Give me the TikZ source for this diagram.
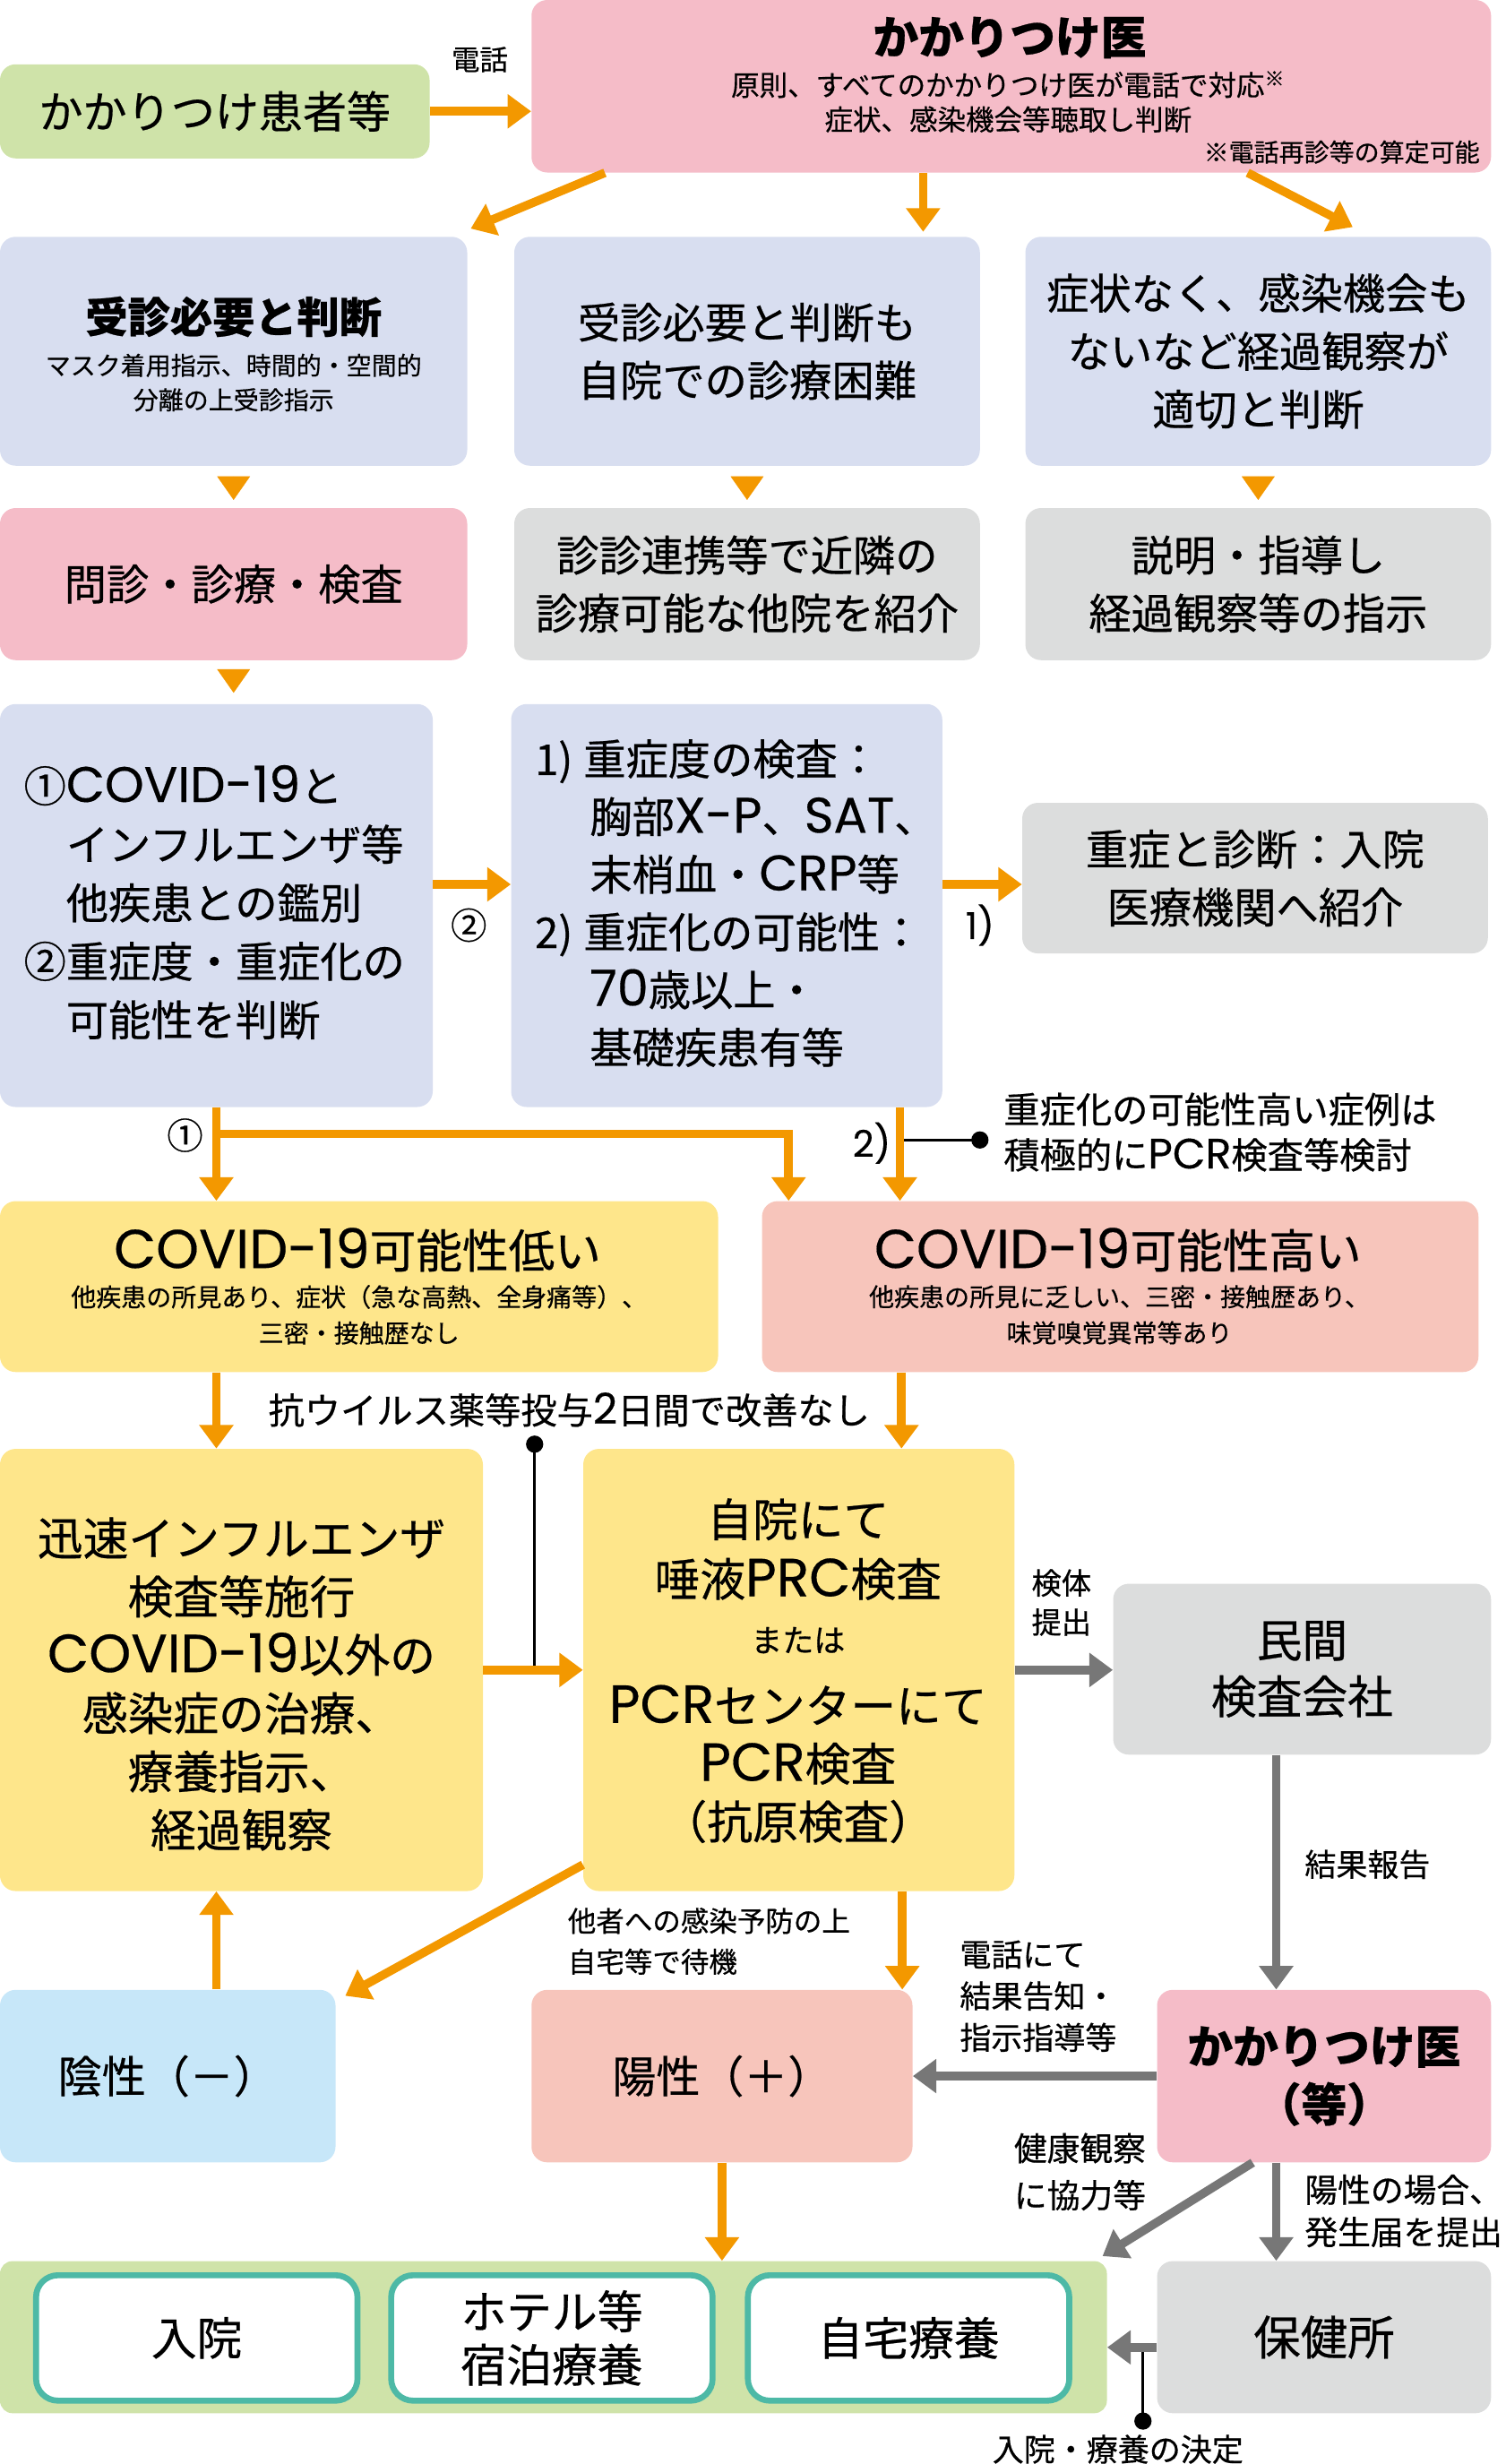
\documentclass[tikz,border=0pt]{standalone}
\usepackage{fontspec}
\setmainfont{Noto Sans CJK JP}[FakeBold=0.5]
\newfontfamily\latinfont{Poppins}[Scale=1.18, FakeBold=0.3]
\newcommand\enw[1]{{\latinfont #1}}
\usetikzlibrary{arrows.meta}
\definecolor{orangeA}{HTML}{F39800}
\definecolor{grayA}{HTML}{777777}
\definecolor{pinkA}{HTML}{F5BCC8}
\definecolor{blueA}{HTML}{D8DEF0}
\definecolor{grayB}{HTML}{DCDDDD}
\definecolor{yellowA}{HTML}{FEE68B}
\definecolor{salmonA}{HTML}{F7C5BB}
\definecolor{skyA}{HTML}{C7E7F9}
\definecolor{greenA}{HTML}{CFE3A9}
\definecolor{tealA}{HTML}{4DB9A6}
\begin{document}
\begin{tikzpicture}[x=1pt,y=-1pt,
  box/.style={rounded corners=10pt, inner sep=0pt, align=center},
  txt/.style={inner sep=0pt, align=center},
  place/.style={box, rounded corners=14pt, fill=white, draw=tealA, line width=3.8pt,
    minimum width=205pt, minimum height=80pt, font=\fontsize{29}{34}\selectfont},
  oarr/.style={draw=orangeA, line width=5.5pt, -{Triangle[width=21pt,length=15pt]}},
  garr/.style={draw=grayA, line width=5.5pt, -{Triangle[width=21pt,length=15pt]}},
  otip/.style={draw=orangeA, fill=orangeA, line width=0.1pt, -{Triangle[width=21pt,length=15pt]}},
  dot/.style={circle, fill=black, inner sep=0pt, minimum size=11pt},
  pin/.style={draw=black, line width=1.9pt},
  bigtxt/.style={font=\fontsize{27}{37}\selectfont}]
\useasboundingbox (0,0) rectangle (960,1571.4);
% top row
\node[box, fill=greenA, minimum width=274pt, minimum height=60pt, font=\fontsize{28}{34}\selectfont] (pat) at (137,71) {かかりつけ患者等};
\node[box, fill=pinkA, minimum width=612pt, minimum height=110pt] (doc) at (645,55) {};
\node[txt, font=\bfseries\fontsize{29}{34}\selectfont] (docT) at (644,24) {かかりつけ医};
\node[txt, font=\fontsize{18}{22}\selectfont] (docS) at (643,65) {原則、すべてのかかりつけ医が電話で対応\textsuperscript{※}\\症状、感染機会等聴取し判断};
\node[txt, anchor=east, font=\fontsize{16}{20}\selectfont] (docN) at (944,97) {※電話再診等の算定可能};
\node[txt, font=\fontsize{18}{20}\selectfont] (tel) at (306,38) {電話};
% judgement
\node[box, fill=blueA, minimum width=298pt, minimum height=146pt] (need) at (149,224) {};
\node[txt, font=\bfseries\fontsize{27}{32}\selectfont] (needT) at (149,202) {受診必要と判断};
\node[txt, font=\fontsize{16}{22}\selectfont] (needS) at (149,244) {マスク着用指示、時間的・空間的\\分離の上受診指示};
\node[box, bigtxt, fill=blueA, minimum width=297pt, minimum height=146pt] (hard) at (476.5,224) {受診必要と判断も\\自院での診療困難};
\node[box, bigtxt, fill=blueA, minimum width=297pt, minimum height=146pt] (watch) at (802.5,224) {症状なく、感染機会も\\ないなど経過観察が\\適切と判断};
\node[box, bigtxt, fill=pinkA, minimum width=298pt, minimum height=97pt] (exam) at (149,372.5) {問診・診療・検査};
\node[box, bigtxt, fill=grayB, minimum width=297pt, minimum height=97pt] (refer) at (476.5,372.5) {診診連携等で近隣の\\診療可能な他院を紹介};
\node[box, bigtxt, fill=grayB, minimum width=297pt, minimum height=97pt] (guide) at (802.5,372.5) {説明・指導し\\経過観察等の指示};
% diagnosis
\node[box, fill=blueA, minimum width=276pt, minimum height=257pt] (diff) at (138,577.5) {};
\node[txt, anchor=west, align=left, font=\fontsize{27}{37.3}\selectfont] (diffT) at (15,575.5) {①\enw{COVID-19}と\\　インフルエンザ等\\　他疾患との鑑別\\②重症度・重症化の\\　可能性を判断};
\node[box, fill=blueA, minimum width=275pt, minimum height=257pt] (sev) at (463.5,577.5) {};
\node[txt, anchor=west, align=left, font=\fontsize{27}{36.8}\selectfont] (sevT) at (341,576) {\makebox[31pt][l]{1)}重症度の検査：\\\hspace*{35pt}胸部\enw{X-P}、\enw{SAT}、\\\hspace*{35pt}末梢血・\enw{CRP}等\\\makebox[31pt][l]{2)}重症化の可能性：\\\hspace*{35pt}\enw{70}歳以上・\\\hspace*{35pt}基礎疾患有等};
\node[box, bigtxt, fill=grayB, minimum width=297pt, minimum height=96pt] (hosp) at (800.5,560) {重症と診断：入院\\医療機関へ紹介};
\node[txt, font=\fontsize{23}{24}\selectfont] (lab2) at (299,590) {②};
\node[txt, font=\fontsize{20}{22}\selectfont] (lab1r) at (625,590) {\enw{1)}};
\node[txt, font=\fontsize{23}{24}\selectfont] (lab1) at (118,724) {①};
\node[txt, font=\fontsize{20}{22}\selectfont] (lab2r) at (556,729) {\enw{2)}};
\node[txt, anchor=west, align=left, font=\fontsize{23}{29}\selectfont] (note) at (640,722) {重症化の可能性高い症例は\\積極的に\enw{PCR}検査等検討};
% possibility
\node[box, fill=yellowA, minimum width=458pt, minimum height=109pt] (low) at (229,820.5) {};
\node[txt, font=\fontsize{29.5}{32}\selectfont] (lowT) at (228,797) {\enw{COVID-19}可能性低い};
\node[txt, font=\fontsize{16}{23}\selectfont] (lowS) at (229,838.5) {他疾患の所見あり、症状（急な高熱、全身痛等）、\\三密・接触歴なし};
\node[box, fill=salmonA, minimum width=457pt, minimum height=109pt] (high) at (714.5,820.5) {};
\node[txt, font=\fontsize{29.5}{32}\selectfont] (highT) at (713,797) {\enw{COVID-19}可能性高い};
\node[txt, font=\fontsize{16}{23}\selectfont] (highS) at (714,838.5) {他疾患の所見に乏しい、三密・接触歴あり、\\味覚嗅覚異常等あり};
\node[txt, anchor=west, font=\fontsize{23}{26}\selectfont] (anti) at (171,899) {抗ウイルス薬等投与\enw{2}日間で改善なし};
% tests
\node[box, fill=yellowA, minimum width=308pt, minimum height=282pt] (flu) at (154,1065) {};
\node[txt, font=\fontsize{29}{37.2}\selectfont] (fluT) at (154,1074) {迅速インフルエンザ\\検査等施行\\\enw{COVID-19}以外の\\感染症の治療、\\療養指示、\\経過観察};
\node[box, fill=yellowA, minimum width=275pt, minimum height=282pt] (pcr) at (509.5,1065) {};
\node[txt, font=\fontsize{29}{38}\selectfont] (pcrA) at (509,988) {自院にて\\唾液\enw{PRC}検査};
\node[txt, font=\fontsize{20}{22}\selectfont] (pcrB) at (509,1046) {または};
\node[txt, font=\fontsize{29}{37}\selectfont] (pcrC) at (509,1125) {\enw{PCR}センターにて\\\enw{PCR}検査\\（抗原検査）};
\node[box, fill=grayB, minimum width=241pt, minimum height=109pt, font=\fontsize{29}{36}\selectfont] (lab) at (830.5,1064.5) {民間\\検査会社};
\node[txt, font=\fontsize{19}{25}\selectfont] (spec) at (677,1022) {検体\\提出};
\node[txt, anchor=west, font=\fontsize{20}{22}\selectfont] (rep) at (832,1189) {結果報告};
% results
\node[box, fill=skyA, minimum width=214pt, minimum height=110pt, font=\fontsize{28}{32}\selectfont] (neg) at (107,1324) {陰性（－）};
\node[box, fill=salmonA, minimum width=243pt, minimum height=110pt, font=\fontsize{28}{32}\selectfont] (pos) at (460.5,1324) {陽性（＋）};
\node[box, fill=pinkA, minimum width=213pt, minimum height=110pt, font=\bfseries\fontsize{29}{37}\selectfont] (doc2) at (844.5,1324) {かかりつけ医\\（等）};
\node[txt, anchor=west, align=left, font=\fontsize{18}{26}\selectfont] (wait) at (362,1238) {他者への感染予防の上\\自宅等で待機};
\node[txt, anchor=west, align=left, font=\fontsize{20}{26.5}\selectfont] (call) at (612,1273) {電話にて\\結果告知・\\指示指導等};
\node[txt, anchor=east, align=left, font=\fontsize{21}{30}\selectfont] (coop) at (731,1385) {健康観察\\に協力等};
\node[txt, anchor=west, align=left, font=\fontsize{21}{27}\selectfont] (notify) at (832,1410) {陽性の場合、\\発生届を提出};
% care
\node[box, rounded corners=8pt, fill=greenA, minimum width=706pt, minimum height=97pt] (care) at (353,1490.5) {};
\node[place] (inpat) at (125.5,1491) {入院};
\node[place] (hotel) at (352,1491) {ホテル等\\宿泊療養};
\node[place] (home) at (579.5,1491) {自宅療養};
\node[box, fill=grayB, minimum width=213pt, minimum height=97pt, font=\fontsize{30}{34}\selectfont] (hc) at (844.5,1490.5) {保健所};
\node[txt, font=\fontsize{20}{22}\selectfont] (decide) at (713,1562) {入院・療養の決定};
% dots
\node[dot] (d1) at (625,727) {};
\node[dot] (d2) at (341,921) {};
\node[dot] (d3) at (729,1544) {};
% connectors
\coordinate (docM) at ([xshift=250pt]doc.south west);
\coordinate (dE) at ([yshift=13.5pt]diff.east);
\coordinate (sE) at ([yshift=13.5pt]sev.east);
\coordinate (dS) at ([yshift=-17pt]diff.south);
\coordinate (sS) at ([xshift=110.5pt]sev.south);
\coordinate (lS) at ([xshift=-91pt]low.south);
\coordinate (hS) at ([xshift=-139.5pt]high.south);
\coordinate (labS) at ([xshift=-16.5pt]lab.south);
\coordinate (pS) at ([xshift=66pt]pcr.south);
\coordinate (nN) at ([xshift=31pt]neg.north);
\coordinate (qS) at ([xshift=-30.5pt]doc2.south);
\coordinate (hW) at ([yshift=-6.5pt]hc.west);
\draw[pin] (d1.center) -- (d1.center -| sS);
\draw[pin] (d2.center) -- (d2.center |- flu.east);
\draw[pin] (d3.center) -- (d3.center |- hW);
\draw[oarr] (pat.east) -- (pat.east -| doc.west);
\draw[oarr] ([xshift=47pt]doc.south west) -- ([xshift=2pt,yshift=5pt]need.north east);
\draw[oarr, shorten >=3pt] (docM) -- (docM |- hard.north);
\draw[oarr] ([xshift=457pt]doc.south west) -- ([xshift=209pt,yshift=6pt]watch.north west);
\draw[otip, shorten <=7pt, shorten >=5pt] (need.south) -- (exam.north);
\draw[otip, shorten <=7pt, shorten >=5pt] (hard.south) -- (refer.north);
\draw[otip, shorten <=7pt, shorten >=5pt] (watch.south) -- (guide.north);
\draw[otip, shorten <=6pt, shorten >=7pt] (exam.south) -- (exam.south |- diff.north);
\draw[oarr] (dE) -- (dE -| sev.west);
\draw[oarr] (sE) -- (sE -| hosp.west);
\draw[oarr] (diff.south) -- (diff.south |- low.north);
\draw[oarr] (dS) -| ([xshift=-211.5pt]high.north);
\draw[oarr] (sS) -- (sS |- high.north);
\draw[oarr] (lS) -- (lS |- flu.north);
\draw[oarr] (hS) -- (hS |- pcr.north);
\draw[oarr] (flu) -- (pcr);
\draw[garr] (pcr.east) -- (pcr.east -| lab.west);
\draw[garr] (labS) -- (labS |- doc2.north);
\draw[oarr] ([yshift=17pt]pcr.south west) -- ([xshift=6pt,yshift=-4pt]neg.north east);
\draw[oarr] (pS) -- (pS |- pos.north);
\draw[oarr] (nN) -- (nN |- flu.south);
\draw[garr] (doc2.west) -- (doc2.west -| pos.east);
\draw[garr] ([xshift=-45.5pt]doc2.south) -- ([xshift=-3pt,yshift=3pt]care.north east);
\draw[garr] (qS) -- (qS |- hc.north);
\draw[oarr] (pos.south) -- (pos.south |- care.north);
\draw[garr] (hW) -- (hW -| care.east);
\end{tikzpicture}
\end{document}
